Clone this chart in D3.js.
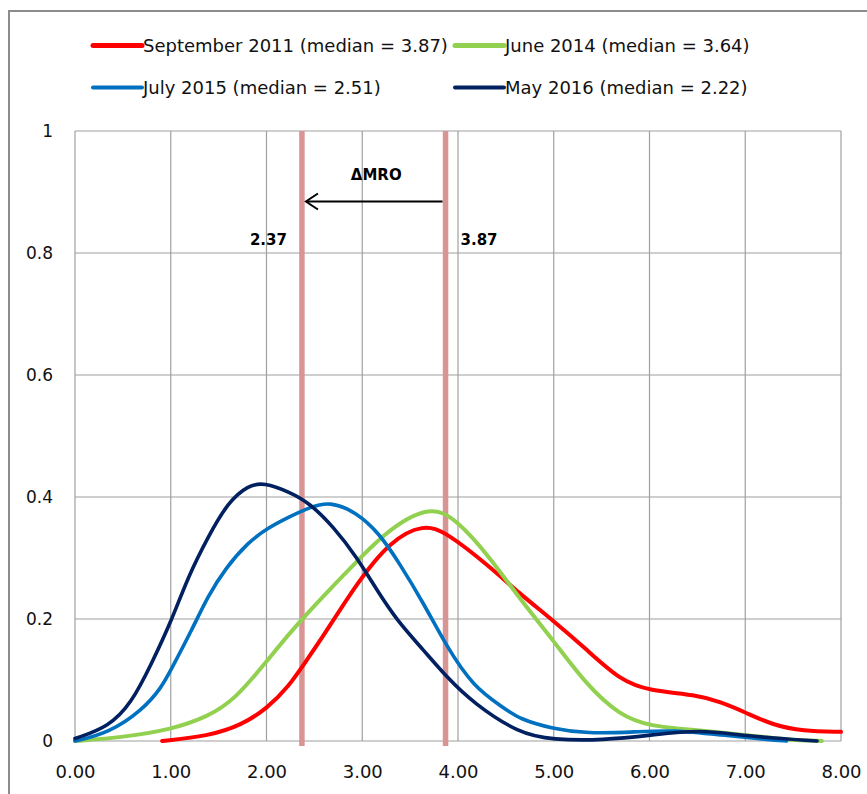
<!DOCTYPE html>
<html>
<head>
    <meta charset="utf-8">
    <title>MRO distributions</title>
    <script src="https://cdn.jsdelivr.net/npm/d3@7"></script>
    <style>
        body { margin: 0; background: #fff; }
    </style>
</head>
<body>
<svg width="867" height="794" font-family="DejaVu Sans, sans-serif"></svg>
<script>
    // series names, colours and the points
    var seriesNames = ["September 2011 (median = 3.87)", "June 2014 (median = 3.64)",
        "July 2015 (median = 2.51)", "May 2016 (median = 2.22)"];
    var seriesColors = ["#ff0000", "#92d050", "#0070c0", "#002060"];

    var sep2011 = [[0.91, 0], [1.39, 0.008], [1.74, 0.026], [2.01, 0.054], [2.23, 0.089], [2.4, 0.128],
        [2.59, 0.171], [2.94, 0.258], [3.29, 0.328], [3.64, 0.356], [3.88, 0.342], [4.33, 0.286],
        [4.64, 0.242], [4.99, 0.198], [5.35, 0.149], [5.69, 0.10], [6.0, 0.082], [6.49, 0.076],
        [6.74, 0.064], [7.0, 0.047], [7.29, 0.026], [7.6, 0.016], [8.0, 0.015]];
    var jun2014 = [[0, 0], [0.5, 0.006], [1.01, 0.019], [1.39, 0.04], [1.67, 0.068], [2.01, 0.132],
        [2.245, 0.178], [2.59, 0.237], [2.94, 0.294], [3.29, 0.349], [3.71, 0.386], [3.98, 0.364],
        [4.33, 0.302], [4.64, 0.234], [4.99, 0.166], [5.34, 0.092], [5.69, 0.042], [6.0, 0.024],
        [6.49, 0.018], [7.0, 0.01], [7.43, 0.002], [7.8, 0]];
    var jul2015 = [[0, 0], [0.35, 0.013], [0.7, 0.05], [0.905, 0.088], [1.0, 0.116], [1.22, 0.182],
        [1.39, 0.238], [1.57, 0.283], [1.81, 0.326], [2.01, 0.349], [2.245, 0.368], [2.45, 0.383],
        [2.66, 0.393], [2.94, 0.375], [3.18, 0.34], [3.39, 0.291], [3.64, 0.226], [3.88, 0.155],
        [4.16, 0.089], [4.47, 0.055], [4.64, 0.036], [4.99, 0.02], [5.34, 0.012], [5.87, 0.015],
        [6.25, 0.018], [6.74, 0.01], [7.26, 0.002], [7.43, 0]];
    var may2016 = [[0, 0.004], [0.35, 0.023], [0.59, 0.062], [0.8, 0.127], [1.01, 0.198], [1.18, 0.269],
        [1.39, 0.335], [1.6, 0.392], [1.81, 0.419], [1.97, 0.424], [2.245, 0.408], [2.45, 0.39],
        [2.7, 0.351], [2.94, 0.302], [3.15, 0.248], [3.36, 0.198], [3.64, 0.149], [3.88, 0.105],
        [4.16, 0.062], [4.64, 0.012], [4.99, 0.002], [5.51, 0.001], [6.04, 0.01], [6.53, 0.019],
        [7.0, 0.008], [7.75, 0]];
    var seriesData = [sep2011, jun2014, jul2015, may2016];

    var xTicks = [0, 1, 2, 3, 4, 5, 6, 7, 8];
    var yTicks = [0, 0.2, 0.4, 0.6, 0.8, 1];
    var medianLines = [2.37, 3.87];

    var svg = d3.select("svg");
    var x = d3.scaleLinear().domain([0, 8]).range([75, 841]);
    var y = d3.scaleLinear().domain([0, 1]).range([741, 131]);

    // outer frame
    svg.append("rect").attr("x", 9).attr("y", 11).attr("width", 880).attr("height", 800)
        .attr("fill", "none").attr("stroke", "#8c8c8c").attr("stroke-width", 2);

    // grid
    svg.append("g").selectAll("line").data(xTicks).enter().append("line")
        .attr("x1", d => x(d)).attr("x2", d => x(d)).attr("y1", y(1)).attr("y2", y(0))
        .attr("stroke", "#a0a0a0").attr("stroke-width", 1.2);
    svg.append("g").selectAll("line").data(yTicks).enter().append("line")
        .attr("x1", x(0)).attr("x2", x(8)).attr("y1", d => y(d)).attr("y2", d => y(d))
        .attr("stroke", "#a0a0a0").attr("stroke-width", 1.2);

    // axes labels
    var yAxis = d3.axisLeft(y).tickValues(yTicks).tickSize(0).tickPadding(22).tickFormat(d3.format("~g"));
    svg.append("g").attr("transform", "translate(" + x(0) + ",0)").call(yAxis)
        .call(g => g.select(".domain").remove())
        .selectAll("text").attr("font-size", 17).attr("font-family", "DejaVu Sans").attr("fill", "#111");

    var xAxis = d3.axisBottom(x).tickValues(xTicks).tickSize(0).tickPadding(24).tickFormat(d3.format(".2f"));
    svg.append("g").attr("transform", "translate(0," + y(0) + ")").call(xAxis)
        .call(g => g.select(".domain").remove())
        .selectAll("text").attr("font-size", 18).attr("font-family", "DejaVu Sans").attr("fill", "#111");

    // median markers
    svg.append("g").selectAll("line").data(medianLines).enter().append("line")
        .attr("x1", d => x(d)).attr("x2", d => x(d)).attr("y1", y(1)).attr("y2", y(0) + 5)
        .attr("stroke", "#d99594").attr("stroke-width", 5.5);

    // curves, smoothed like the spreadsheet lines
    var line = d3.line().x(d => x(d[0])).y(d => y(d[1])).curve(d3.curveBasis);
    svg.append("g").selectAll("path").data(seriesData).enter().append("path")
        .attr("d", line).attr("fill", "none")
        .attr("stroke", (d, i) => seriesColors[i])
        .attr("stroke-width", (d, i) => i < 2 ? 4 : 3.6)
        .attr("stroke-linecap", "round");

    // delta arrow
    var ay = 201.5;
    var x0 = x(medianLines[1]) - 3, x1 = x(medianLines[0]) + 4;
    svg.append("line").attr("x1", x0).attr("x2", x1).attr("y1", ay).attr("y2", ay)
        .attr("stroke", "#000").attr("stroke-width", 2);
    svg.append("path")
        .attr("d", "M" + (x1 + 12) + "," + (ay - 8) + "L" + x1 + "," + ay + "L" + (x1 + 12) + "," + (ay + 8))
        .attr("fill", "none").attr("stroke", "#000").attr("stroke-width", 2);
    svg.append("text").attr("x", (x0 + x1) / 2 + 2).attr("y", 180).attr("text-anchor", "middle")
        .attr("font-size", 15).attr("font-weight", "bold").text("ΔMRO");
    svg.append("text").attr("x", x(medianLines[0]) - 15).attr("y", 245).attr("text-anchor", "end")
        .attr("font-size", 15).attr("font-weight", "bold").text("2.37");
    svg.append("text").attr("x", x(medianLines[1]) + 15).attr("y", 245)
        .attr("font-size", 15).attr("font-weight", "bold").text("3.87");

    // legend
    var legendPos = [[93, 45.5], [455, 45.5], [93, 87.5], [455, 87.5]];
    var legend = svg.append("g").selectAll("g").data(seriesNames).enter().append("g")
        .attr("transform", (d, i) => "translate(" + legendPos[i][0] + "," + legendPos[i][1] + ")");
    legend.append("line").attr("x1", 0).attr("x2", 49).attr("y1", 0).attr("y2", 0)
        .attr("stroke", (d, i) => seriesColors[i]).attr("stroke-width", (d, i) => i < 2 ? 5 : 4)
        .attr("stroke-linecap", "round");
    legend.append("text").attr("x", 50).attr("y", 6.5).attr("font-size", 18).attr("fill", "#111")
        .text(d => d);
</script>
</body>
</html>
